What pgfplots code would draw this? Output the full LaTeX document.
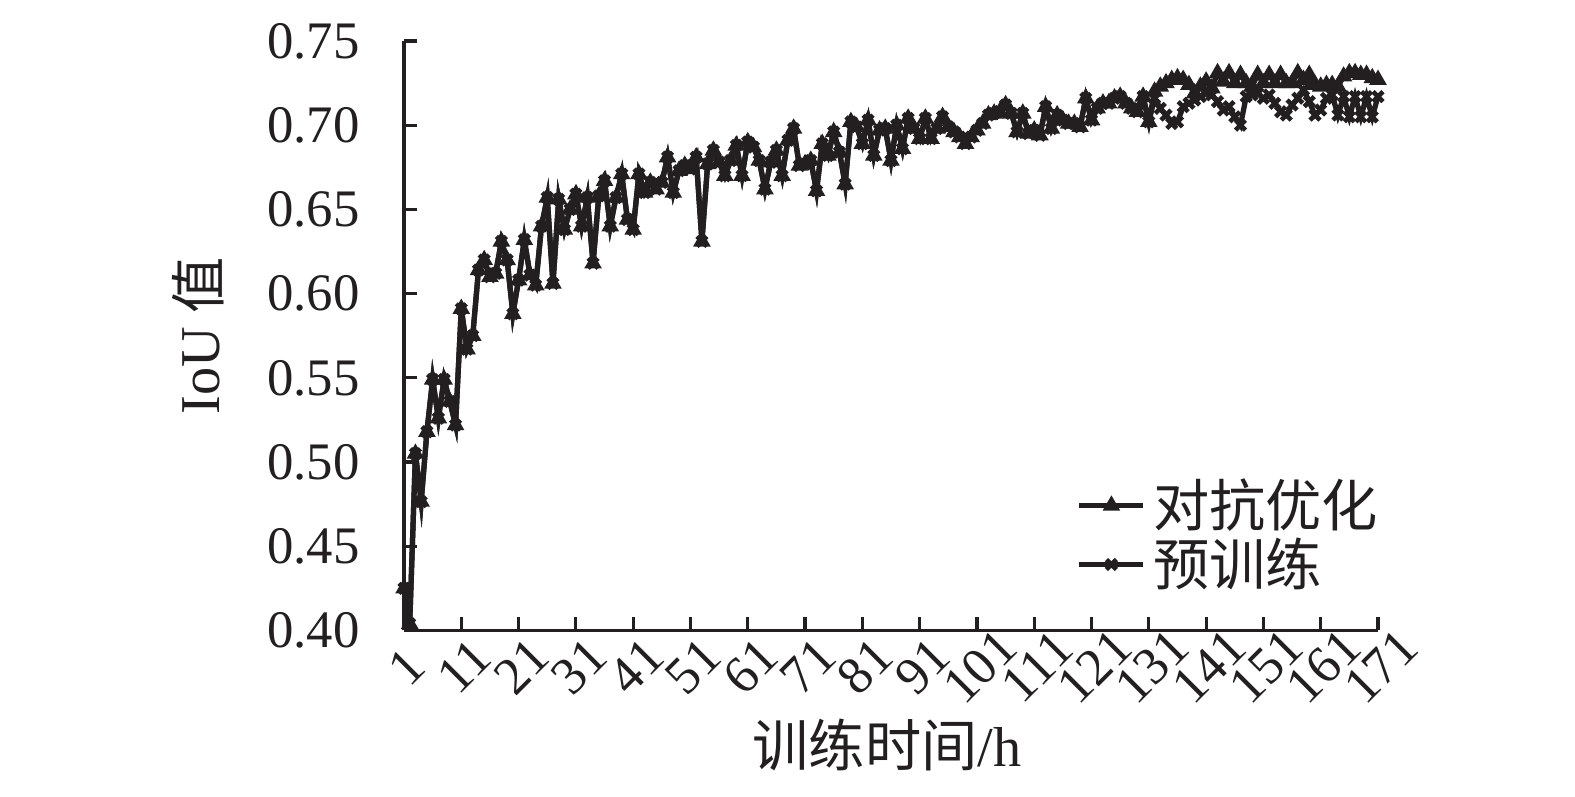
\documentclass[border=0pt]{standalone}
\usepackage{fontspec}
\setmainfont{Liberation Serif}
\newfontfamily\cjk{Noto Sans CJK SC}
\usepackage{pgfplots}
\usepackage{pgfplotstable}
\pgfplotsset{compat=1.18}
\definecolor{ink}{RGB}{35,31,32}
\pgfplotstableread{
x a b
1 0.425 0.425
2 0.404 0.404
3 0.505 0.505
4 0.4765 0.4765
5 0.518 0.518
6 0.549 0.549
7 0.526 0.526
8 0.549 0.549
9 0.536 0.536
10 0.522 0.522
11 0.591 0.591
12 0.567 0.567
13 0.575 0.575
14 0.614 0.614
15 0.620 0.620
16 0.610 0.610
17 0.612 0.612
18 0.631 0.631
19 0.620 0.620
20 0.588 0.588
21 0.608 0.608
22 0.632 0.632
23 0.611 0.611
24 0.605 0.605
25 0.640 0.640
26 0.657 0.657
27 0.606 0.606
28 0.656 0.656
29 0.638 0.638
30 0.650 0.650
31 0.659 0.659
32 0.640 0.640
33 0.657 0.657
34 0.618 0.618
35 0.658 0.658
36 0.667 0.667
37 0.640 0.640
38 0.657 0.657
39 0.671 0.671
40 0.644 0.644
41 0.638 0.638
42 0.671 0.671
43 0.660 0.660
44 0.666 0.666
45 0.662 0.662
46 0.666 0.666
47 0.681 0.681
48 0.660 0.660
49 0.673 0.673
50 0.676 0.676
51 0.674 0.674
52 0.681 0.681
53 0.631 0.631
54 0.677 0.677
55 0.685 0.685
56 0.678 0.678
57 0.670 0.670
58 0.679 0.679
59 0.688 0.688
60 0.670 0.670
61 0.690 0.690
62 0.687 0.687
63 0.679 0.679
64 0.662 0.662
65 0.678 0.678
66 0.685 0.685
67 0.670 0.670
68 0.691 0.691
69 0.698 0.698
70 0.676 0.676
71 0.677 0.677
72 0.679 0.679
73 0.661 0.661
74 0.689 0.689
75 0.682 0.682
76 0.696 0.696
77 0.684 0.684
78 0.665 0.665
79 0.702 0.702
80 0.699 0.699
81 0.689 0.689
82 0.703 0.703
83 0.682 0.682
84 0.697 0.697
85 0.698 0.698
86 0.679 0.679
87 0.700 0.700
88 0.686 0.686
89 0.704 0.704
90 0.698 0.698
91 0.692 0.692
92 0.704 0.704
93 0.692 0.692
94 0.698 0.698
95 0.705 0.705
96 0.699 0.699
97 0.696 0.696
98 0.693 0.693
99 0.689 0.689
100 0.693 0.693
101 0.697 0.697
102 0.701 0.701
103 0.706 0.706
104 0.707 0.707
105 0.708 0.708
106 0.712 0.712
107 0.707 0.707
108 0.696 0.696
109 0.707 0.707
110 0.695 0.695
111 0.697 0.697
112 0.694 0.694
113 0.711 0.711
114 0.698 0.698
115 0.706 0.706
116 0.703 0.703
117 0.701 0.701
118 0.701 0.701
119 0.699 0.699
120 0.716 0.716
121 0.703 0.703
122 0.710 0.710
123 0.713 0.713
124 0.713 0.713
125 0.716 0.716
126 0.717 0.717
127 0.713 0.713
128 0.710 0.710
129 0.708 0.708
130 0.717 0.717
131 0.702 0.702
132 0.720 0.716
133 0.723 0.710
134 0.725 0.706
135 0.727 0.701
136 0.728 0.702
137 0.727 0.711
138 0.724 0.713
139 0.719 0.715
140 0.723 0.717
141 0.726 0.719
142 0.722 0.718
143 0.731 0.714
144 0.726 0.709
145 0.731 0.711
146 0.725 0.705
147 0.730 0.700
148 0.725 0.717
149 0.723 0.718
150 0.730 0.719
151 0.725 0.716
152 0.730 0.718
153 0.725 0.713
154 0.730 0.708
155 0.725 0.706
156 0.725 0.712
157 0.731 0.716
158 0.727 0.721
159 0.730 0.714
160 0.724 0.706
161 0.723 0.709
162 0.724 0.716
163 0.724 0.718
164 0.723 0.706
165 0.729 0.717
166 0.731 0.705
167 0.731 0.717
168 0.730 0.705
169 0.730 0.717
170 0.728 0.705
171 0.727 0.717
}\datatable
\begin{document}
\begin{tikzpicture}
\path[use as bounding box] (-40.4mm,-16.65mm) rectangle (117.1mm,63.05mm);
\begin{axis}[
  at={(0,0)}, anchor=south west,
  scale only axis,
  width=97.4mm, height=58.95mm,
  xmin=1, xmax=171, ymin=0.40, ymax=0.75,
  axis x line*=bottom, axis y line*=left,
  axis line style={line width=1.1pt, color=ink},
  tick align=inside,
  major tick length=1.3mm,
  every tick/.style={line width=0.9pt, color=ink},
  xtick={1,11,...,171},
  ytick={0.40,0.45,0.50,0.55,0.60,0.65,0.70,0.75},
  /pgf/number format/assume math mode=true,
  y tick label style={/pgf/number format/fixed, /pgf/number format/fixed zerofill, /pgf/number format/precision=2},
  tick label style={font=\fontsize{15}{18}\selectfont, color=ink},
  yticklabel style={xshift=-3.2mm},
  xticklabel style={yshift=-3.6mm, xshift=0.3mm, rotate=45, anchor=center},
  xlabel={{\cjk 训练时间}/h},
  ylabel={IoU {\cjk 值}},
  label style={font=\fontsize{16}{19}\selectfont, color=ink},
  xlabel style={at={(axis description cs:0.496,-0.194)}, anchor=center},
  ylabel style={at={(axis description cs:-0.211,0.5)}, anchor=center, rotate=0},
  legend style={at={(axis description cs:0.849,0.162)}, anchor=center, draw=none, fill=none,
    font=\cjk\fontsize{16}{19}\selectfont, row sep=-0.8mm, text=ink},
  legend cell align=left,
  legend image code/.code={\draw[#1, mark repeat=2, mark phase=2] plot coordinates {(0mm,0mm) (3.2mm,0mm) (6.4mm,0mm)};},
  clip=false,
]
\addplot[color=ink, line width=1.5pt, mark=triangle*, mark size=1.4pt, mark options={solid}] table[x=x, y=a]{\datatable};
\addlegendentry{对抗优化}
\addplot[color=ink, line width=1.5pt, mark=x, mark size=2pt, mark options={solid, line width=1.3pt}] table[x=x, y=b]{\datatable};
\addlegendentry{预训练}
\end{axis}
\end{tikzpicture}
\end{document}
